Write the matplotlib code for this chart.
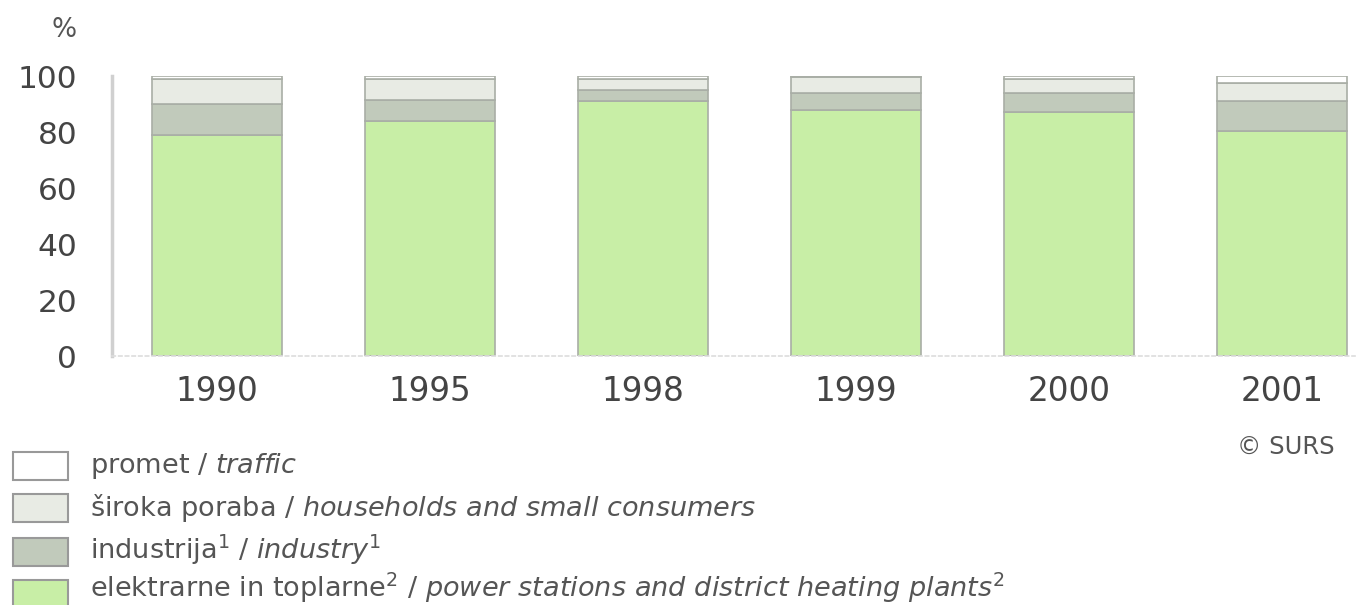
import matplotlib
matplotlib.use("Agg")
import matplotlib.pyplot as plt
from matplotlib.patches import Rectangle
import numpy as np

plt.rcParams['font.family'] = ['DejaVu Sans']
plt.rcParams['mathtext.fontset'] = 'dejavusans'

years = ["1990", "1995", "1998", "1999", "2000", "2001"]
power = [79, 84, 91, 88, 87, 80.5]
industry = [11, 7.5, 4, 6, 7, 10.5]
households = [9, 7.5, 4, 5.5, 5, 6.5]
traffic = [1, 1, 1, 0.5, 1, 2.5]

series = [power, industry, households, traffic]
colors = ["#c8eea6", "#c1cabb", "#e8ebe4", "#ffffff"]
labels = [
    r"elektrarne in toplarne$^{2}$ / $\mathit{power\ stations\ and\ district\ heating\ plants}^{2}$",
    r"industrija$^{1}$ / $\mathit{industry}^{1}$",
    r"široka poraba / $\mathit{households\ and\ small\ consumers}$",
    r"promet / $\mathit{traffic}$",
]

W, H = 1361, 605
fig = plt.figure(figsize=(W / 100, H / 100), dpi=100)
ax = fig.add_axes([112 / W, 1 - 356 / H, 1243 / W, 280 / H])

x = np.arange(len(years))
bottom = np.zeros(len(years))
for vals, c in zip(series, colors):
    ax.bar(x, vals, width=0.61, bottom=bottom, color=c, edgecolor="#a9aea6", linewidth=1.2)
    bottom += np.array(vals)

ax.set_xlim(-0.493, 5.343)
ax.set_ylim(0, 100)
ax.set_yticks([0, 20, 40, 60, 80, 100])
ax.set_xticks(x)
ax.set_xticklabels(years)
ax.tick_params(axis="both", length=0, labelcolor="#444444")
ax.tick_params(axis="y", pad=25, labelsize=22.5)
ax.tick_params(axis="x", pad=14, labelsize=23.5)
for s in ["top", "right"]:
    ax.spines[s].set_visible(False)
ax.spines["left"].set_color("#d0d0d0")
ax.spines["left"].set_linewidth(2.5)
ax.spines["bottom"].set_color("#dddddd")
ax.spines["bottom"].set_linestyle((0, (2, 2)))
ax.spines["bottom"].set_linewidth(1.2)

fig.text(77 / W, 1 - 30 / H, "%", ha="right", va="center", fontsize=19, color="#555555")
fig.text(1335 / W, 1 - 447 / H, "© SURS", ha="right", va="center", fontsize=17.5, color="#555555")

# legend (top row = traffic)
rows_y = [466, 508, 552, 594]
text_y = [466, 508, 550, 588]
for i, idx in enumerate([3, 2, 1, 0]):
    yc = rows_y[i]
    fig.patches.append(Rectangle((13 / W, 1 - (yc + 14) / H), 55 / W, 28 / H,
                                 transform=fig.transFigure, facecolor=colors[idx],
                                 edgecolor="#999999", linewidth=1.5))
    fig.text(90 / W, 1 - text_y[i] / H, labels[idx], ha="left", va="center",
             fontsize=19.5, color="#555555")

fig.savefig("out.png", dpi=100)
